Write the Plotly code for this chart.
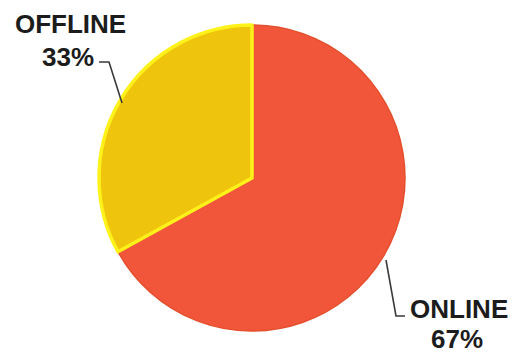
import plotly.graph_objects as go

# Share of sales by channel
channels = ["ONLINE", "OFFLINE"]
shares = [67, 33]
slice_colors = ["#F2563A", "#EFC40C"]
edge_colors = ["#E4502E", "#FFF21A"]
edge_widths = [1.5, 3.5]

W, H = 514, 354


def px(x):
    return x / W


def py(y):
    return 1 - y / H


# pie centre (252, 178) px, radius 153 px
cx, cy, r = 252, 178, 153

fig = go.Figure(
    go.Pie(
        labels=channels,
        values=shares,
        sort=False,
        direction="clockwise",
        rotation=0,
        textinfo="none",
        hoverinfo="label+percent",
        marker=dict(colors=slice_colors,
                    line=dict(color=edge_colors, width=edge_widths)),
        domain=dict(x=[px(cx - r), px(cx + r)], y=[py(cy + r), py(cy - r)]),
        showlegend=False,
    )
)

font = dict(family="Liberation Sans, Arial, sans-serif", size=26, color="#1c1c1c")

# label block positions (px): name line and percent line
label_pos = {
    "OFFLINE": ((70, 24), (68, 57)),
    "ONLINE": ((459, 309), (457, 339)),
}

annotations = []
for name, val in zip(channels, shares):
    (nx, ny), (vx, vy) = label_pos[name]
    annotations.append(dict(x=px(nx), y=py(ny), xref="paper", yref="paper",
                            text=f"<b>{name}</b>", showarrow=False,
                            xanchor="center", yanchor="middle", font=font))
    annotations.append(dict(x=px(vx), y=py(vy), xref="paper", yref="paper",
                            text=f"<b>{val}%</b>", showarrow=False,
                            xanchor="center", yanchor="middle", font=font))

# leader lines from labels to slices
leaders = [
    [(99, 62), (109, 62), (122, 103)],
    [(386, 260), (396, 316), (405, 316)],
]
shapes = []
for pts in leaders:
    path = "M " + " L ".join(f"{px(x)},{py(y)}" for x, y in pts)
    shapes.append(dict(type="path", path=path, xref="paper", yref="paper",
                       line=dict(color="#3a3a3a", width=1.6)))

fig.update_layout(
    width=W, height=H,
    margin=dict(l=0, r=0, t=0, b=0),
    paper_bgcolor="white",
    plot_bgcolor="white",
    annotations=annotations,
    shapes=shapes,
)

fig.write_html("out.html")
